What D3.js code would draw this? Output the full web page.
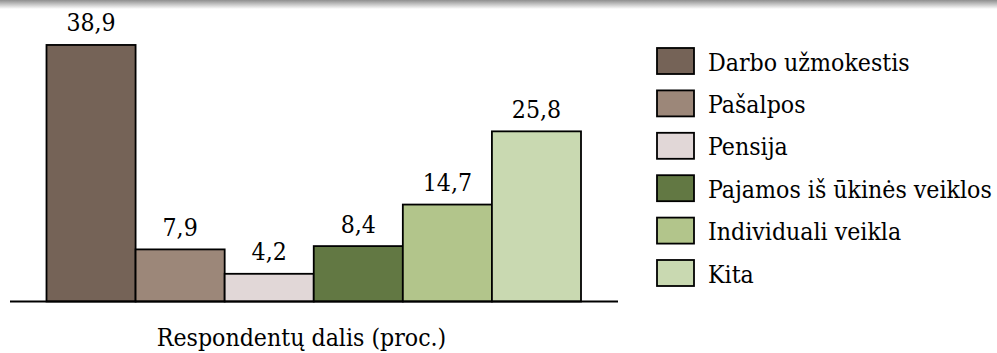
<!DOCTYPE html>
<html><head><meta charset="utf-8">
<script src="https://cdnjs.cloudflare.com/ajax/libs/d3/7.8.5/d3.min.js"></script>
<style>html,body{margin:0;padding:0;background:#fff;}svg{display:block;}</style>
</head><body>
<svg id="chart" width="997" height="353"></svg>
<script>
const categories = ["Darbo užmokestis","Pašalpos","Pensija","Pajamos iš ūkinės veiklos","Individuali veikla","Kita"];
const values = [38.9, 7.9, 4.2, 8.4, 14.7, 25.8];
const valueLabels = ["38,9","7,9","4,2","8,4","14,7","25,8"];
const colors = ["#756357","#9c8779","#e1d7d7","#627843","#b2c58b","#c9d9b1"];
const axisTitle = "Respondentų dalis (proc.)";
const group = ["Respondentų dalis (proc.)"];

const FONT = "'DejaVu Serif Condensed', 'DejaVu Serif', serif";
const svg = d3.select("#chart");

function fit(str, target) {
  const probe = svg.append("text").attr("font-family", FONT).attr("font-stretch","condensed").attr("font-size", 20).text(str);
  const w = probe.node().getComputedTextLength();
  probe.remove();
  return Math.max(14, Math.min(28, 20 * target / (w || target)));
}
const FS = fit(categories[3], 284);

// top shadow gradient
const defs = svg.append("defs");
const grad = defs.append("linearGradient").attr("id","topg").attr("x1",0).attr("y1",0).attr("x2",0).attr("y2",1);
grad.append("stop").attr("offset","0%").attr("stop-color","#8f8f8f");
grad.append("stop").attr("offset","100%").attr("stop-color","#ffffff");
svg.append("rect").attr("x",0).attr("y",0).attr("width",997).attr("height",9).attr("fill","url(#topg)");

const x0 = d3.scaleBand().domain(group).range([46.5, 581]);
const x1 = d3.scaleBand().domain(categories).range([0, x0.bandwidth()]);
const y = d3.scaleLinear().domain([0, 40]).range([301.5, 37.7]);

const g = svg.append("g").attr("transform", `translate(${x0(group[0])},0)`);
g.selectAll("rect.bar").data(categories).join("rect")
  .attr("class","bar")
  .attr("x", d => x1(d))
  .attr("y", (d,i) => y(values[i]))
  .attr("width", x1.bandwidth())
  .attr("height", (d,i) => y(0) - y(values[i]))
  .attr("fill", (d,i) => colors[i])
  .attr("stroke","#000").attr("stroke-width",1.8);

g.selectAll("text.val").data(categories).join("text")
  .attr("class","val")
  .attr("x", d => x1(d) + x1.bandwidth()/2)
  .attr("y", (d,i) => y(values[i]) - 13.5)
  .attr("text-anchor","middle")
  .attr("font-family", FONT).attr("font-stretch","condensed").attr("font-size", FS).attr("fill","#000")
  .text((d,i) => valueLabels[i]);

// x axis line
const xAxis = d3.axisBottom(x0).tickSize(0).tickFormat("");
const ax = svg.append("g").attr("transform", `translate(0,${y(0)})`).call(xAxis);
ax.select(".domain").attr("stroke","#000").attr("stroke-width",1.8).attr("d", `M10,0H618`);

svg.append("text")
  .attr("x", 301.5)
  .attr("y", 346)
  .attr("text-anchor","middle")
  .attr("font-family", FONT).attr("font-stretch","condensed").attr("font-size", FS).attr("fill","#000")
  .text(axisTitle);

// legend
const legend = svg.append("g").attr("transform","translate(657,48)");
const rowH = 42.4;
const items = legend.selectAll("g").data(categories).join("g")
  .attr("transform", (d,i) => `translate(0,${i*rowH})`);
items.append("rect").attr("x",0).attr("y",0).attr("width",37).attr("height",26)
  .attr("fill", (d,i) => colors[i]).attr("stroke","#000").attr("stroke-width",1.8);
items.append("text").attr("x",51).attr("y",22.5)
  .attr("font-family", FONT).attr("font-stretch","condensed").attr("font-size", FS).attr("fill","#000")
  .text(d => d);
</script>
</body></html>
